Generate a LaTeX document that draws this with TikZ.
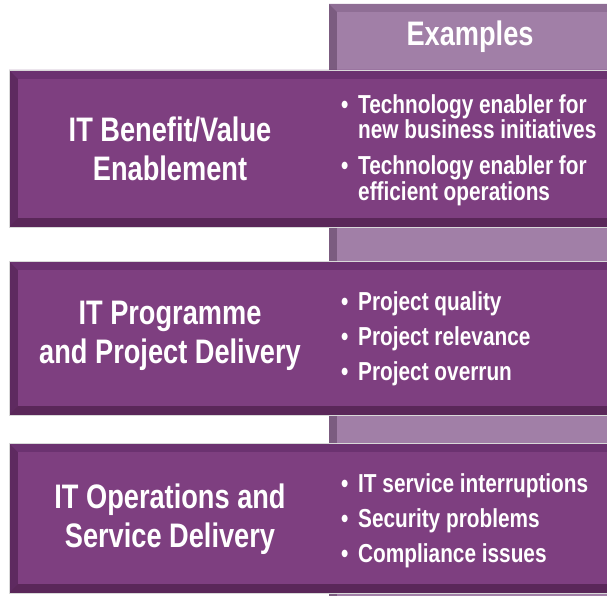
\documentclass[tikz,border=0pt]{standalone}
\usepackage{fontspec}
\newfontfamily\condfont{Liberation Sans}[FakeStretch=0.8]
\definecolor{boxface}{HTML}{7E3F80}
\definecolor{boxleft}{HTML}{5E2A60}
\definecolor{boxtop}{HTML}{6B3270}
\definecolor{boxbot}{HTML}{5A2759}
\definecolor{colface}{HTML}{A17FA7}
\definecolor{colleft}{HTML}{7B5C80}
\definecolor{coltop}{HTML}{8F6E95}
% bande violette en relief : #1 = haut, #2 = bas
\newcommand{\bande}[2]{%
 \fill[boxleft] (9,#1) rectangle (607,#2);
 \fill[boxtop] (9,#1)--(607,#1)--(607,#1+9)--(18,#1+9)--cycle;
 \fill[boxbot] (9,#2)--(18,#2-9)--(607,#2-9)--(607,#2)--cycle;
 \fill[boxface] (18,#1+9) rectangle (607,#2-9);
 \draw[gray!30,line width=.6pt] (607,#1)--(9,#1)--(9,#2)--(607,#2);
}
\newcommand{\puce}{\makebox[17pt][l]{\textbullet}}
\newcommand{\retrait}{\hspace*{17pt}}

\begin{document}
\begin{tikzpicture}[x=1pt,y=-1pt,
 titre/.style={text=white,inner sep=0,align=center,
  font=\condfont\bfseries\fontsize{34}{39}\selectfont},
 liste/.style={text=white,inner sep=0,align=left,anchor=west,
  font=\condfont\bfseries\fontsize{26}{23}\selectfont}]
\useasboundingbox (0,0) rectangle (607,596);
%colonne des exemples (derriere)
 \fill[colleft] (329,4) rectangle (607,596);
 \fill[coltop] (329,4)--(607,4)--(607,12)--(337,12)--cycle;
 \fill[colface] (337,12) rectangle (607,596);
 \node[titre] (examples) at (470,37) {Examples};
%bande 1
 \bande{70}{227}
 \node[titre] (benefit) at (170,149) {IT Benefit/Value\\Enablement};
 \node[liste] (ex1) at (341,150) {\puce Technology enabler for\\\retrait new business initiatives\\[13pt]\puce Technology enabler for\\\retrait efficient operations};
%bande 2
 \bande{261}{415}
 \node[titre] (programme) at (170,336) {IT Programme\\and Project Delivery};
 \node[liste] (ex2) at (341,339) {\puce Project quality\\[10pt]\puce Project relevance\\[10pt]\puce Project overrun};
%bande 3
 \bande{443}{593}
 \node[titre] (operations) at (170,519) {IT Operations and\\Service Delivery};
 \node[liste] (ex3) at (341,521) {\puce IT service interruptions\\[10pt]\puce Security problems\\[10pt]\puce Compliance issues};
\end{tikzpicture}
\end{document}
